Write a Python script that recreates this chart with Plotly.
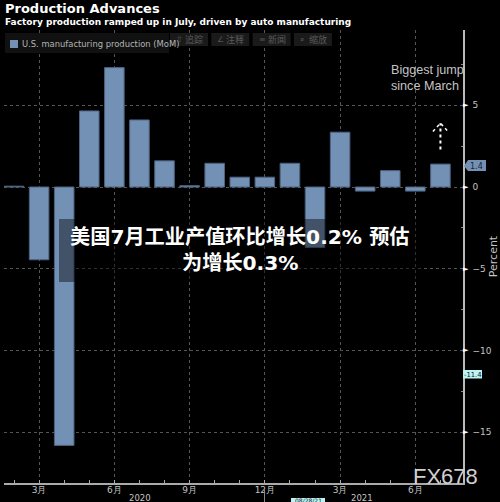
import plotly.graph_objects as go

# monthly change, Feb 2020 - Jul 2021
months = ["2020-02", "2020-03", "2020-04", "2020-05", "2020-06", "2020-07", "2020-08", "2020-09", "2020-10",
          "2020-11", "2020-12", "2021-01", "2021-02", "2021-03", "2021-04", "2021-05", "2021-06", "2021-07"]
mom = [0.05, -4.45, -15.8, 4.65, 7.3, 4.1, 1.6, 0.08, 1.45, 0.6, 0.6, 1.45, -3.7, 3.35, -0.25, 1.0, -0.25, 1.4]
x_pos = list(range(len(months)))

month_ticks = [1, 4, 7, 10, 13, 16]
month_labels = ["3月", "6月", "9月", "12月", "3月", "6月"]
y_ticks = [5, 0, -5, -10, -15]
series_name = "U.S. manufacturing production (MoM)"
tool_icons = ["⇧", "∠", "≡", "⌕"]
tool_labels = ["追踪", "注释", "新闻", "缩放"]

BAR = "#7390b5"
GREY = "#c4c4c4"
W, H = 500, 502
L, R, T, B = 4, 37, 30, 19

fig = go.Figure()
fig.add_trace(go.Bar(x=x_pos, y=mom, width=0.78, name=series_name, showlegend=False,
                     marker=dict(color=BAR, line=dict(color="#4d6280", width=1))))


# paper coordinates are relative to the plot area, so convert from window pixels
def px(x):
    return (x - L) / (W - L - R)


def py(y):
    return (H - B - y) / (H - T - B)


def note(text, x, y, size=10, color=GREY, anchor="left", **kw):
    fam = kw.pop("family", "DejaVu Sans")
    fig.add_annotation(text=text, x=px(x), y=py(y), xref="paper", yref="paper", showarrow=False,
                       xanchor=anchor, yanchor="middle", font=dict(size=size, color=color, family=fam),
                       borderpad=0, **kw)


# headings
note("<b>Production Advances</b>", 4, 9, size=13, color="#ffffff")
note("<b>Factory production ramped up in July, driven by auto manufacturing</b>", 4, 22, size=9, color="#ffffff")

# legend box
fig.add_shape(type="rect", xref="paper", yref="paper", x0=px(5), x1=px(169), y0=py(33), y1=py(53),
              fillcolor="#111111", line=dict(width=0))
fig.add_shape(type="rect", xref="paper", yref="paper", x0=px(10), x1=px(18), y0=py(40), y1=py(48),
              fillcolor=BAR, line=dict(width=0))
note(series_name, 21, 44, size=8.4, color="#b5b5b5")

# side notes
note("Biggest jump<br>since March", 390, 78, size=12.6, align="left", family="Liberation Sans")
for v in y_ticks:
    note("►", 462, 187 - v * 16.33, size=7, color="#ffffff")

# dotted arrow
fig.add_shape(type="line", x0=17, x1=17, y0=2.3, y1=3.9, line=dict(color="#ffffff", width=2, dash="dot"))
fig.add_shape(type="path", path="M 16.7 3.4 L 17 3.9 L 17.3 3.4", line=dict(color="#ffffff", width=1.5, dash="dot"))

# value tags
fig.add_shape(type="path", xref="paper", yref="paper",
              path=f"M {px(464)} {py(166)} L {px(468)} {py(160)} L {px(486)} {py(160)} L {px(486)} {py(171)} L {px(468)} {py(171)} Z",
              fillcolor=BAR, line=dict(width=0))
note("1.4", 476, 166, size=8, color="#1c2430", anchor="center")
fig.add_shape(type="rect", xref="paper", yref="paper", x0=px(463), x1=px(482), y0=py(370), y1=py(378.5),
              fillcolor="#bdf3f5", line=dict(width=0))
note("-11.4", 472.5, 374.5, size=6.8, color="#10202a", anchor="center")

# page furniture: toolbar, year labels, date tag, watermark
for i, (icon, label) in enumerate(zip(tool_icons, tool_labels)):
    left = 170 + i * 41.3
    fig.add_shape(type="rect", xref="paper", yref="paper", x0=px(left), x1=px(left + 38), y0=py(33), y1=py(46),
                  fillcolor="#1a1a1a", line=dict(width=0))
    note(icon, left + 5, 39.5, size=8, color="#555555")
    note(label, left + 14, 39.5, size=9, color="#5a5a5a", family="Noto Sans CJK SC")
note("2020", 139.5, 498, size=8.5, anchor="center")
note("2021", 362, 498, size=8.5, anchor="center")
fig.add_shape(type="line", xref="paper", yref="paper", x0=px(264.5), x1=px(264.5), y0=py(490), y1=py(502),
              line=dict(color="#888888", width=1))
fig.add_shape(type="rect", xref="paper", yref="paper", x0=px(291), x1=px(325), y0=py(498), y1=py(502),
              fillcolor="#bdf3f5", line=dict(width=0))
note("08/28/21", 308, 500, size=6, color="#10202a", anchor="center")
note("FX678", 412, 476, size=22, color="#d0d0d0", family="Liberation Sans")

# headline banner laid over the chart
fig.add_shape(type="rect", xref="paper", yref="paper", x0=px(59), x1=px(421), y0=py(219), y1=py(282),
              fillcolor="rgba(0,0,0,0.42)", line=dict(width=0), layer="above")
head_font = "DejaVu Sans, Noto Sans CJK SC"
note("<b>美国7月工业产值环比增长0.2% 预估</b>", 240, 237, size=20.2, color="#ffffff", anchor="center", family=head_font)
note("<b>为增长0.3%</b>", 240, 263, size=20.2, color="#ffffff", anchor="center", family=head_font)

fig.update_layout(
    width=W, height=H, margin=dict(l=L, r=R, t=T, b=B), autosize=False,
    paper_bgcolor="#000000", plot_bgcolor="#000000",
    font=dict(family="DejaVu Sans", color=GREY, size=10),
)
fig.update_xaxes(range=[-0.4, 17.9], tickmode="array", tickvals=month_ticks, ticktext=month_labels,
                 showgrid=True, gridcolor="#555555", griddash="dot", gridwidth=1, zeroline=False,
                 showline=True, linecolor="#aaaaaa", linewidth=1.5, ticks="", ticklabelstandoff=-3,
                 automargin=False, tickfont=dict(size=9, color=GREY),
                 minor=dict(dtick=1, tick0=0, ticks="inside", ticklen=3, tickcolor="#aaaaaa", showgrid=False))
fig.update_yaxes(range=[-18.1, 9.6], side="right", tickmode="array", tickvals=y_ticks,
                 showgrid=True, gridcolor="#555555", griddash="dot", ticklabelstandoff=6,
                 zeroline=False, showline=True, linecolor="#bbbbbb", linewidth=1.5, ticks="",
                 automargin=False, tickfont=dict(size=9, color=GREY),
                 minor=dict(tickmode="array", tickvals=[7.5, 2.5, -2.5, -7.5, -12.5], ticks="inside", ticklen=2,
                            tickcolor="#888888", showgrid=False),
                 title=dict(text="Percent", font=dict(size=11, color=GREY), standoff=2))

# browser default body margin would push the figure off the window
fig.write_html("out.html", config=dict(displayModeBar=False),
               post_script="document.body.style.margin='0';document.body.style.background='#000';document.documentElement.style.overflow='hidden';")
